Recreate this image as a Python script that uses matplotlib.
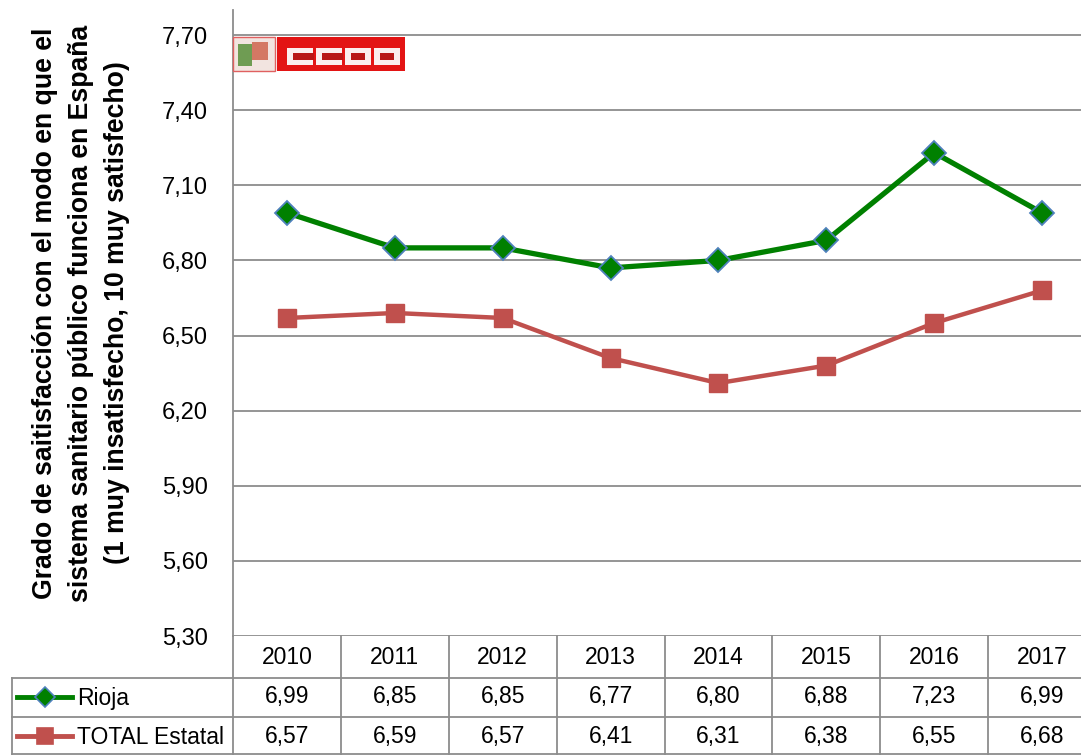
import matplotlib.pyplot as plt
from matplotlib.patches import Rectangle
from matplotlib.lines import Line2D

years = ["2010", "2011", "2012", "2013", "2014", "2015", "2016", "2017"]
rioja = [6.99, 6.85, 6.85, 6.77, 6.80, 6.88, 7.23, 6.99]
total = [6.57, 6.59, 6.57, 6.41, 6.31, 6.38, 6.55, 6.68]
series_names = ["Rioja", "TOTAL Estatal"]
yticks = [5.30, 5.60, 5.90, 6.20, 6.50, 6.80, 7.10, 7.40, 7.70]

plt.rcParams['font.family'] = ['Liberation Sans', 'DejaVu Sans']
W, H = 1081, 755
fig = plt.figure(figsize=(W / 100, H / 100), dpi=100)

# plot area in pixels
left, right, top, bottom = 233, 1096, 10, 636
ax = fig.add_axes([left / W, 1 - bottom / H, (right - left) / W, (bottom - top) / H])

green = "#008000"
red = "#C0504D"
grid_col = "#8C8C8C"
fs = 16.5

x = list(range(len(years)))
ax.plot(x, rioja, color=green, lw=3.8, marker="D", ms=12, mfc=green,
        mec="#4F81BD", mew=1.3, zorder=3)
ax.plot(x, total, color=red, lw=3.2, marker="s", ms=13, mfc=red, mec=red, zorder=3)

ax.set_xlim(-0.5, len(years) - 0.5)
ax.set_ylim(5.30, 7.80)
ax.set_yticks(yticks)
ax.set_yticklabels([f"{v:.2f}".replace(".", ",") for v in yticks], fontsize=17)
ax.set_xticks([])
ax.tick_params(axis="y", length=0, pad=18)
for yv in yticks:
    ax.axhline(yv, color=grid_col, lw=1.3, zorder=1)
for s in ["top", "right", "bottom"]:
    ax.spines[s].set_visible(False)
ax.spines["left"].set_color(grid_col)
ax.spines["left"].set_linewidth(1.3)

fig.text(81 / W, 1 - 313 / H,
         "Grado de saitisfacción con el modo en que el\n"
         "sistema sanitario público funciona en España\n"
         "(1 muy insatisfecho, 10 muy satisfecho)",
         rotation=90, ha="center", va="center", fontsize=19.2,
         fontweight="bold", linespacing=1.5)

# data table below the plot
def px(xp, yp):
    return xp / W, 1 - yp / H

def hline(x0, x1, yp):
    fig.add_artist(Line2D([x0 / W, x1 / W], [1 - yp / H, 1 - yp / H],
                          color=grid_col, lw=1.3))

def vline(xp, y0, y1):
    fig.add_artist(Line2D([xp / W, xp / W], [1 - y0 / H, 1 - y1 / H],
                          color=grid_col, lw=1.3))

cw = (right - left) / len(years)
hline(12, right, 678)
hline(12, right, 717)
hline(12, right, 754)
vline(12, 678, 755)
for i in range(len(years) + 1):
    vline(left + i * cw, 636, 755)

for i, yr in enumerate(years):
    cx = left + (i + 0.5) * cw
    fig.text(*px(cx, 657), yr, ha="center", va="center", fontsize=fs)
    fig.text(*px(cx, 697), f"{rioja[i]:.2f}".replace(".", ","),
             ha="center", va="center", fontsize=fs)
    fig.text(*px(cx, 736), f"{total[i]:.2f}".replace(".", ","),
             ha="center", va="center", fontsize=fs)

# legend keys inside the table
for yp, col, mk, ms, mec, name in [(697, green, "D", 10, "#4F81BD", series_names[0]),
                                   (736, red, "s", 12, red, series_names[1])]:
    fig.add_artist(Line2D([17 / W, 72 / W], [1 - yp / H] * 2, color=col, lw=3.5))
    fig.add_artist(Line2D([44.5 / W], [1 - yp / H], color=col, marker=mk, ms=ms,
                          mfc=col, mec=mec, mew=1.2))
    fig.text(*px(77, yp + 1), name, ha="left", va="center", fontsize=fs)

# CCOO logo
fig.add_artist(Rectangle(px(233, 71), 42 / W, 34 / H, facecolor="#F2E4E0",
                         edgecolor="#E06060", lw=1))
fig.add_artist(Rectangle(px(238, 66), 14 / W, 22 / H, facecolor="#4E8A30",
                         edgecolor="none", alpha=0.8))
fig.add_artist(Rectangle(px(252, 60), 16 / W, 18 / H, facecolor="#C84A30",
                         edgecolor="none", alpha=0.7))
fig.add_artist(Rectangle(px(277, 71), 128 / W, 34 / H, facecolor="#E31414",
                         edgecolor="none"))
for i, letter in enumerate("CCOO"):
    lx = 287 + i * 29
    fig.add_artist(Rectangle(px(lx, 65), 26 / W, 17 / H, facecolor="#FBEFEF",
                             edgecolor="none"))
    inner_w = 21 if letter == "C" else 14
    fig.add_artist(Rectangle(px(lx + 6, 60), inner_w / W, 7 / H,
                             facecolor="#B81818", edgecolor="none"))

fig.savefig("out.png", dpi=100)
